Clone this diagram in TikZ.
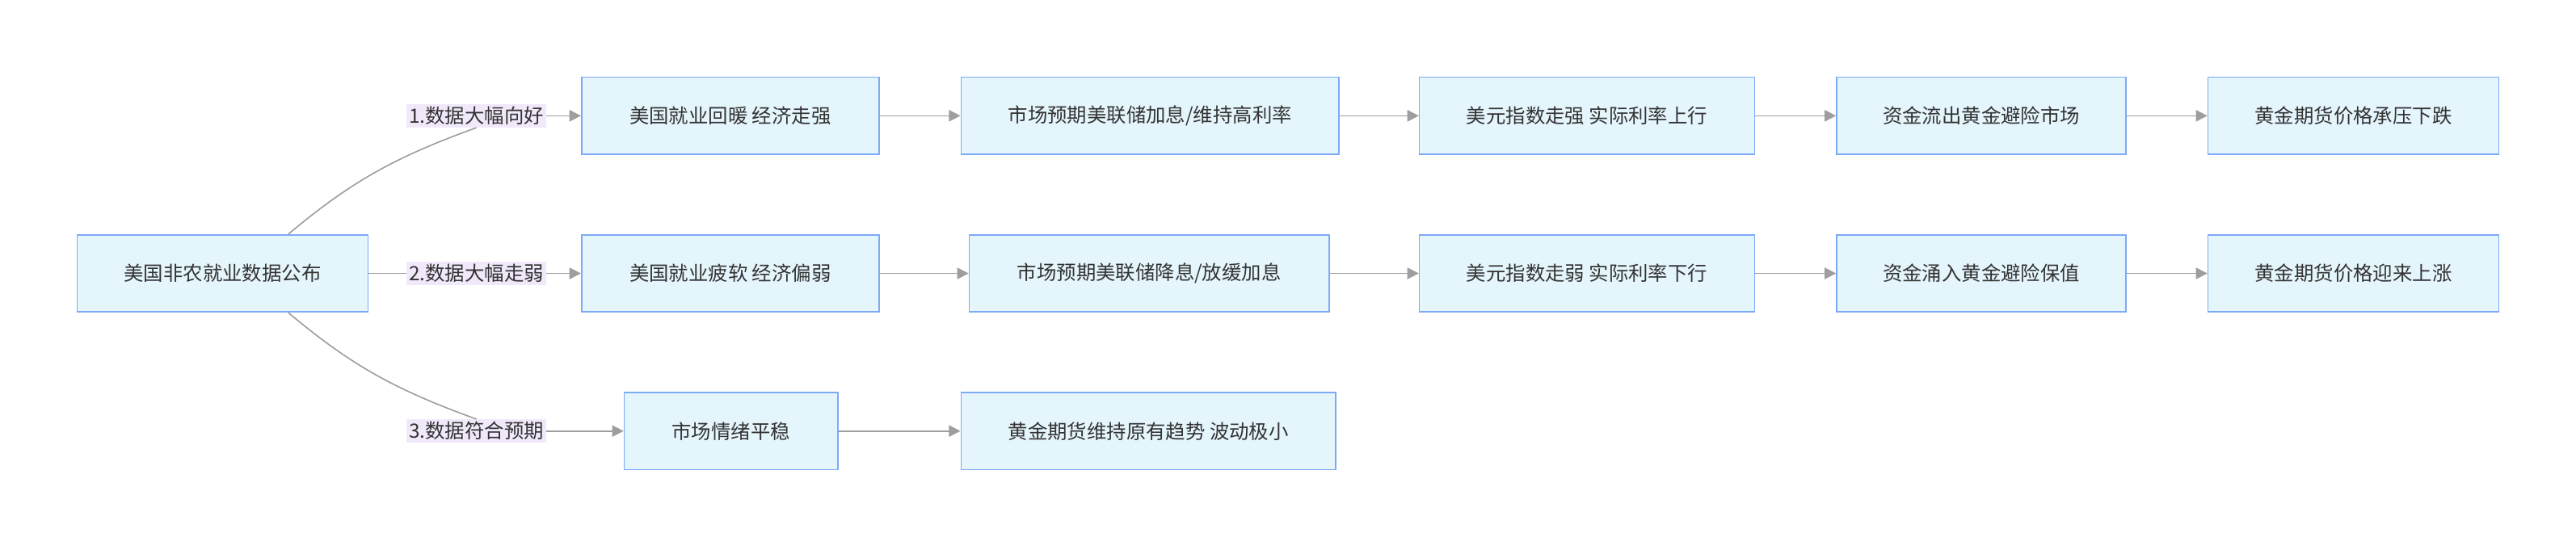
\documentclass[tikz,border=0pt]{standalone}
\usepackage{fontspec}
\setmainfont{Noto Sans CJK SC}
\usetikzlibrary{arrows.meta}
\definecolor{boxfill}{HTML}{E4F5FC}
\definecolor{boxline}{HTML}{7DAAF7}
\definecolor{tagfill}{HTML}{F1E9FA}
\definecolor{wire}{HTML}{9E9E9E}
\definecolor{ink}{HTML}{333333}
\tikzset{
  box/.style={draw=boxline, fill=boxfill, line width=0.8pt, minimum height=47pt, inner sep=0pt, text=ink, font=\fontsize{12}{14}\selectfont},
  tag/.style={fill=tagfill, inner sep=1.5pt, text=ink, font=\fontsize{12}{14}\selectfont},
  flow/.style={-{Triangle[length=7pt,width=7pt]}, draw=wire, line width=0.8pt},
  wire/.style={draw=wire, line width=0.8pt}
}
\begin{document}
\begin{tikzpicture}[x=1pt,y=-1pt]
    \useasboundingbox (0,0) rectangle (1568,334.5);

    \node (R) at (135.5,166.5) [box, minimum width=177pt] {美国非农就业数据公布};

    % row 1
    \node (A1) at (444.5,70.5) [box, minimum width=181pt] {美国就业回暖 经济走强};
    \node (A2) at (700,70.5) [box, minimum width=230pt] {市场预期美联储加息/维持高利率};
    \node (A3) at (966,70.5) [box, minimum width=204pt] {美元指数走强 实际利率上行};
    \node (A4) at (1206,70.5) [box, minimum width=176pt] {资金流出黄金避险市场};
    \node (A5) at (1432.5,70.5) [box, minimum width=177pt] {黄金期货价格承压下跌};

    % row 2
    \node (B1) at (444.5,166.5) [box, minimum width=181pt] {美国就业疲软 经济偏弱};
    \node (B2) at (699.5,166.5) [box, minimum width=219pt] {市场预期美联储降息/放缓加息};
    \node (B3) at (966,166.5) [box, minimum width=204pt] {美元指数走弱 实际利率下行};
    \node (B4) at (1206,166.5) [box, minimum width=176pt] {资金涌入黄金避险保值};
    \node (B5) at (1432.5,166.5) [box, minimum width=177pt] {黄金期货价格迎来上涨};

    % row 3
    \node (C1) at (445,262.5) [box, minimum width=130pt] {市场情绪平稳};
    \node (C2) at (699,262.5) [box, minimum width=228pt] {黄金期货维持原有趋势 波动极小};

    % branch tags
    \node (T1) at (290,70.5) [tag] {1.数据大幅向好};
    \node (T2) at (290,166.5) [tag] {2.数据大幅走弱};
    \node (T3) at (290,262.5) [tag] {3.数据符合预期};

    \coordinate (Rn) at ([xshift=40pt]R.north);
    \coordinate (Rs) at ([xshift=40pt]R.south);
    \draw [wire] (Rn) to[out=40, in=200] (T1.south);
    \draw [flow] (T1) -- (A1);
    \draw [wire] (R) -- (T2);
    \draw [flow] (T2) -- (B1);
    \draw [wire] (Rs) to[out=-40, in=160] (T3.north);
    \draw [flow] (T3.east) to[out=0, in=180] (C1.west);

    \foreach \i/\j in {1/2,2/3,3/4,4/5} {
        \draw [flow] (A\i) -- (A\j);
        \draw [flow] (B\i) -- (B\j);
    }
    \draw [flow] (C1) -- (C2);
\end{tikzpicture}
\end{document}
